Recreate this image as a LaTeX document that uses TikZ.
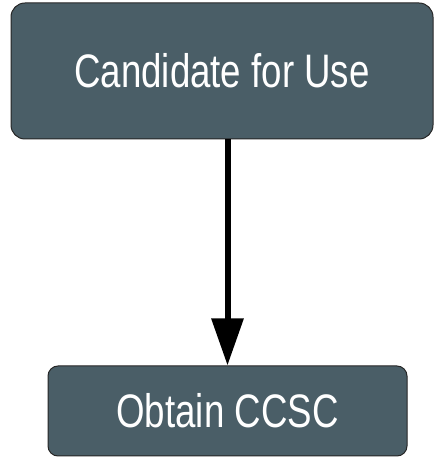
\documentclass[tikz,border=0pt]{standalone}
\usepackage{fontspec}
\setmainfont{Liberation Sans}[FakeStretch=0.78]
\usepackage{tikz}
\usetikzlibrary{arrows.meta}
\definecolor{slate}{RGB}{74,94,103}

\begin{document}
\begin{tikzpicture}[x=1pt,y=1pt,
    stepbox/.style={draw=black!85,line width=1,fill=slate,text=white,rounded corners=14,inner sep=0,font=\fontsize{47}{50}\selectfont}]
    \useasboundingbox (0,0) rectangle (435,457);
    \node [stepbox,minimum width=422,minimum height=136] (cand) at (222,386) {Candidate for Use};
    \node [stepbox,minimum width=359,minimum height=90,rounded corners=10] (ccsc) at (227.5,46) {Obtain CCSC};
    \draw [line width=6,-{Triangle[length=47pt,width=31pt]}] (cand.south -| ccsc.north) -- (ccsc.north);
\end{tikzpicture}
\end{document}
